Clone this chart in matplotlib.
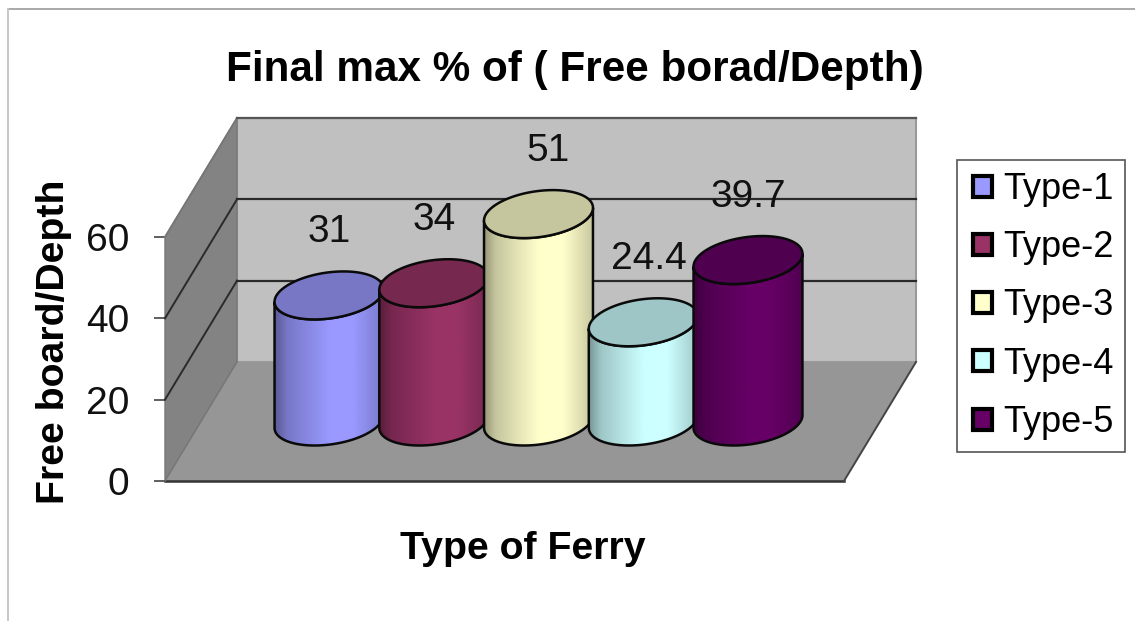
import numpy as np
import matplotlib
matplotlib.use('Agg')
from matplotlib import pyplot as plt
from matplotlib.patches import Polygon, Patch
from matplotlib.lines import Line2D
from matplotlib.colors import to_rgb
from matplotlib.legend_handler import HandlerPatch

# data
types = ['Type-1', 'Type-2', 'Type-3', 'Type-4', 'Type-5']
values = [31, 34, 51, 24.4, 39.7]
value_labels = ['31', '34', '51', '24.4', '39.7']
colors = ['#9999FF', '#993366', '#FFFFCC', '#CCFFFF', '#660066']
y_ticks = [0, 20, 40, 60]

W, H = 1135, 621
plt.rcParams['font.family'] = ['Liberation Sans', 'DejaVu Sans']

fig = plt.figure(figsize=(W / 100, H / 100), dpi=100, facecolor='white')

# axes = front plane of the 3d box
ax = fig.add_axes([165 / W, 1 - 481 / H, 679 / W, 244 / H])
px_x = 104.75  # pixels per category
px_y = 244 / 60  # pixels per value unit
ax.set_xlim(-1.222, -1.222 + 679 / px_x)
ax.set_ylim(0, 60)
x0, x1 = ax.get_xlim()

depth_x = 72 / px_x
depth_y = 119 / px_y


def deep(x, y, d):
    return x + d * depth_x, y + d * depth_y


# walls and floor
back = [deep(x0, 0, 1), deep(x1, 0, 1), deep(x1, 60, 1), deep(x0, 60, 1)]
side = [(x0, 0), deep(x0, 0, 1), deep(x0, 60, 1), (x0, 60)]
floor = [(x0, 0), (x1, 0), deep(x1, 0, 1), deep(x0, 0, 1)]
ax.add_patch(Polygon(back, fc='#C0C0C0', ec='#999999', lw=1.5, clip_on=False, zorder=1))
ax.add_patch(Polygon(side, fc='#838383', ec='#777777', lw=1, clip_on=False, zorder=1))
ax.add_patch(Polygon(floor, fc='#969696', ec='none', clip_on=False, zorder=1))

# gridlines go along the side wall and the back wall
for t in y_ticks[1:]:
    bx, by = deep(x0, t, 1)
    col = '#555555' if t == 60 else '#2a2a2a'
    ax.plot([x0, bx], [t, by], color=col if t < 60 else '#777777', lw=1.4, clip_on=False, zorder=2)
    ax.plot([bx, deep(x1, t, 1)[0]], [by, by], color=col, lw=1.6, clip_on=False, zorder=2)
ax.plot([x0, x1], [0, 0], color='#333333', lw=1.8, clip_on=False, zorder=2)
ax.plot([x1, deep(x1, 0, 1)[0]], [0, deep(x1, 0, 1)[1]], color='#444444', lw=1.4, clip_on=False, zorder=2)
ax.plot([x0, deep(x0, 0, 1)[0]], [0, deep(x0, 0, 1)[1]], color='#777777', lw=1, clip_on=False, zorder=2)

# cylinders
half_w = 52.5 / px_x
shear_x = 14.5 / px_x
shear_y = 24 / px_y
t0 = np.arctan2(shear_x, half_w)
shade_pos = [0, 0.12, 0.5, 0.72, 1]
shade_val = [0.58, 0.78, 1.0, 1.0, 0.78]


def ring(cx, cy, t):
    return cx + half_w * np.cos(t) + shear_x * np.sin(t), cy + shear_y * np.sin(t)


front = np.linspace(t0 + np.pi, t0 + 2 * np.pi, 80)
whole = np.linspace(0, 2 * np.pi, 160)
shade = np.interp(np.linspace(0, 1, 256), shade_pos, shade_val)

for i, (val, col) in enumerate(zip(values, colors)):
    z = 3 + i
    cx, cy = deep(i, 0, 0.5)
    bx, by = ring(cx, cy, front)
    tx, ty = ring(cx, cy + val, front)
    body = np.vstack([np.c_[bx, by], np.c_[tx, ty][::-1]])
    rgb = np.array(to_rgb(col))
    grad = (shade[:, None] * rgb)[None, :, :]
    ext = half_w * 1.05
    im = ax.imshow(grad, extent=[cx - ext, cx + ext, cy - 10, cy + val + 10], aspect='auto', zorder=z)
    outline = Polygon(body, fc='none', ec='#0a0a0a', lw=1.8, clip_on=False, zorder=z + 0.1)
    ax.add_patch(outline)
    im.set_clip_path(outline)
    im.set_clip_box(fig.bbox)
    ex, ey = ring(cx, cy + val, whole)
    ax.fill(ex, ey, fc=rgb * 0.775, ec='#0a0a0a', lw=1.8, clip_on=False, zorder=z + 0.2)

ax.set_xlim(x0, x1)
ax.set_ylim(0, 60)

# data labels, 51 and 24.4 sit a bit right of their bars
label_nudge = [0, 0, 0.09, 0.05, 0]
for i, (val, txt) in enumerate(zip(values, value_labels)):
    cx, cy = deep(i, 0, 0.5)
    ax.text(cx + label_nudge[i], cy + val + 15.6, txt, fontsize=28, ha='center', va='center',
            color='#111111', clip_on=False, zorder=20)

# axes
for s in ax.spines.values():
    s.set_visible(False)
ax.patch.set_visible(False)
ax.set_xticks([])
ax.set_yticks(y_ticks)
ax.tick_params(axis='y', length=8, width=1.2, color='#444444', pad=18, labelsize=28, labelcolor='#111111')
ax.set_ylabel('Free board/Depth', fontsize=28.3, fontweight='bold')
ax.yaxis.set_label_coords(54 / W, 1 - 342 / H, transform=fig.transFigure)
ax.set_xlabel('Type of Ferry', fontsize=28.3, fontweight='bold')
ax.xaxis.set_label_coords(523 / W, 1 - 549 / H, transform=fig.transFigure)
ax.xaxis.label.set_va('center')
ax.yaxis.label.set_va('center')

fig.text(575 / W, 1 - 70 / H, 'Final max % of ( Free borad/Depth)', fontsize=30.4, fontweight='bold',
         ha='center', va='center')

# legend
handles = [Patch(fc=c, ec='black', lw=3, label=t) for t, c in zip(types, colors)]
leg = fig.legend(handles=handles, loc='upper left', bbox_to_anchor=(957 / W, 1 - 160 / H),
                 borderaxespad=0, fontsize=26, frameon=True, fancybox=False, framealpha=1,
                 edgecolor='#555555', handlelength=0.64, handleheight=0.52, handletextpad=0.3,
                 labelspacing=0.644, borderpad=0.33,
                 handler_map={Patch: HandlerPatch(xpad=0.12)})
leg.get_frame().set_linewidth(1.2)

# slide frame
fig.add_artist(Line2D([8 / W, 1], [1 - 9 / H, 1 - 9 / H], color='#999999', lw=1.2))
fig.add_artist(Line2D([8 / W, 8 / W], [0, 1 - 9 / H], color='#c8c8c8', lw=1.4))

fig.savefig('out.png', dpi=100)
